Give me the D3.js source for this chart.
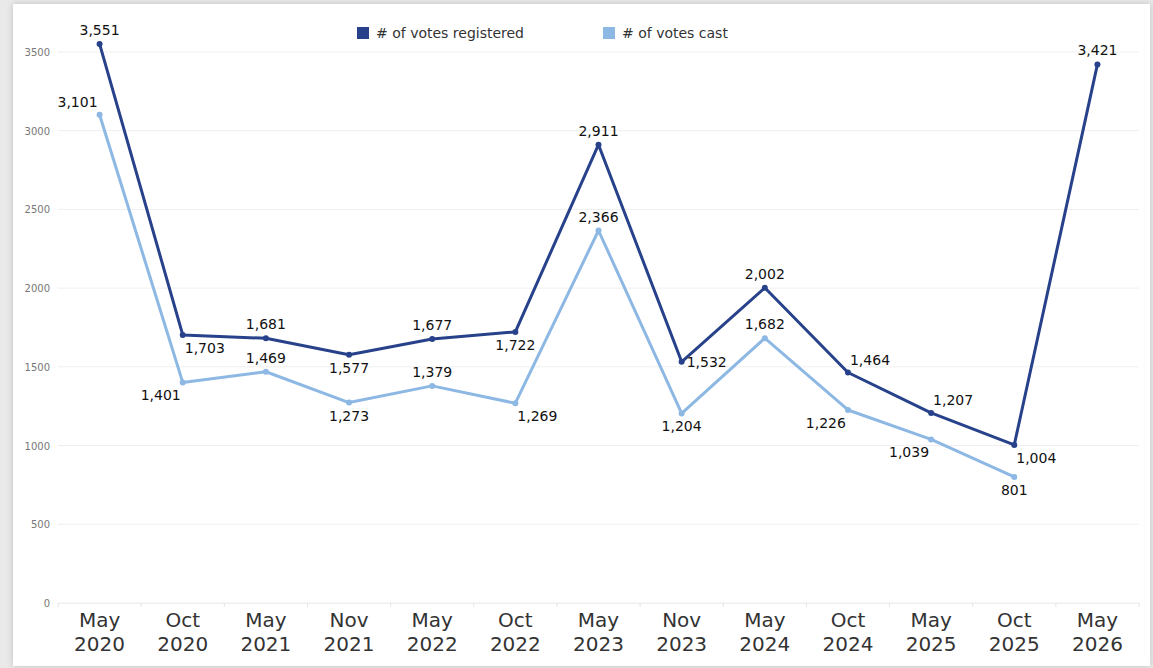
<!DOCTYPE html>
<html><head><meta charset="utf-8">
<script src="https://cdn.jsdelivr.net/npm/d3@7"></script>
<style>
html,body{margin:0;padding:0;background:#e9e9e9;}
svg{display:block;}
</style></head>
<body>
<svg id="chart" width="1153" height="668"></svg>
<script>
const categories = [["May","2020"],["Oct","2020"],["May","2021"],["Nov","2021"],["May","2022"],["Oct","2022"],["May","2023"],["Nov","2023"],["May","2024"],["Oct","2024"],["May","2025"],["Oct","2025"],["May","2026"]];
const votesRegistered = [3551,1703,1681,1577,1677,1722,2911,1532,2002,1464,1207,1004,3421];
const votesCast = [3101,1401,1469,1273,1379,1269,2366,1204,1682,1226,1039,801,null];
const yTicks = [0,500,1000,1500,2000,2500,3000,3500];
const seriesNames = ["# of votes registered","# of votes cast"];
// label placement codes (layout)
const labelPosReg = ["t","br","t","b","t","b","t","r","t","tr","tr","br","t"];
const labelPosCast = ["tl","bl","t","b","t","br","t","b","t","bl","bl","b",null];

(function(){
const colors = ["#27428a","#8db8e3"];
const svg = d3.select("#chart");
const defs = svg.append("defs");
const f = defs.append("filter").attr("id","sh").attr("x","-5%").attr("y","-5%").attr("width","110%").attr("height","110%");
f.append("feDropShadow").attr("dx",0).attr("dy",0).attr("stdDeviation",3).attr("flood-color","#000").attr("flood-opacity",0.18);
svg.append("rect").attr("x",13).attr("y",4).attr("width",1137).attr("height",662).attr("fill","#fff").attr("filter","url(#sh)");

const pLeft=58, pRight=1139, pBottom=603, pTop=40;
const x = d3.scaleBand().domain(categories.map((d,i)=>i)).range([pLeft,pRight]).padding(0);
const y = d3.scaleLinear().domain([0,3576]).range([pBottom,pTop]);
const cx = i => x(i)+x.bandwidth()/2;
const font = "DejaVu Sans, Verdana, sans-serif";

const g = svg.append("g");
g.selectAll("line.grid").data(yTicks).join("line")
 .attr("x1",pLeft).attr("x2",pRight).attr("y1",d=>y(d)).attr("y2",d=>y(d))
 .attr("stroke","#efefef").attr("stroke-width",1);
g.selectAll("text.yt").data(yTicks).join("text")
 .attr("x",50).attr("y",d=>y(d)+4).attr("text-anchor","end")
 .attr("font-family",font).attr("font-size",10).attr("fill","#777").text(d=>d);

const xa = svg.append("g").attr("transform",`translate(0,${pBottom})`)
 .call(d3.axisBottom(x).tickSize(0).tickFormat(""));
xa.select(".domain").attr("stroke","#efefef");
const edges = categories.map((d,i)=>x(i)).concat([pRight]);
svg.selectAll("line.xtick").data(edges).join("line")
 .attr("x1",d=>d).attr("x2",d=>d).attr("y1",pBottom).attr("y2",pBottom+4)
 .attr("stroke","#e4e4e4");
const xl = svg.selectAll("text.xl").data(categories).join("text")
 .attr("text-anchor","middle").attr("font-family",font).attr("font-size",20).attr("fill","#333");
xl.append("tspan").attr("x",(d,i)=>cx(i)).attr("y",627).text(d=>d[0]);
xl.append("tspan").attr("x",(d,i)=>cx(i)).attr("y",651).text(d=>d[1]);

const line = d3.line().defined(d=>d!=null).x((d,i)=>cx(i)).y(d=>y(d));
[votesRegistered, votesCast].forEach((s,k)=>{
  svg.append("path").datum(s).attr("d",line).attr("fill","none")
   .attr("stroke",colors[k]).attr("stroke-width",3).attr("stroke-linejoin","round");
});
[votesRegistered, votesCast].forEach((s,k)=>{
  svg.selectAll(null).data(s.map((v,i)=>({v,i})).filter(d=>d.v!=null)).join("circle")
   .attr("cx",d=>cx(d.i)).attr("cy",d=>y(d.v)).attr("r",3).attr("fill",colors[k]);
});

const off = {t:[0,-9,"middle"], b:[0,18,"middle"], r:[5,5,"start"], tr:[2,-8,"start"], br:[2,18,"start"], bl:[-2,18,"end"], tl:[-2,-8,"end"]};
const fmt = d3.format(",");
[[votesRegistered,labelPosReg],[votesCast,labelPosCast]].forEach(([s,p])=>{
  svg.selectAll(null).data(s.map((v,i)=>({v,i,p:p[i]})).filter(d=>d.v!=null)).join("text")
   .attr("x",d=>cx(d.i)+off[d.p][0]).attr("y",d=>y(d.v)+off[d.p][1])
   .attr("text-anchor",d=>off[d.p][2])
   .attr("font-family",font).attr("font-size",14).attr("fill","#111").text(d=>fmt(d.v));
});

const legX = [357,603];
seriesNames.forEach((n,k)=>{
  svg.append("rect").attr("x",legX[k]).attr("y",27).attr("width",12).attr("height",12).attr("fill",colors[k]);
  svg.append("text").attr("x",legX[k]+19).attr("y",38).attr("font-family",font).attr("font-size",14).attr("fill","#333").text(n);
});
})();
</script>
</body></html>
